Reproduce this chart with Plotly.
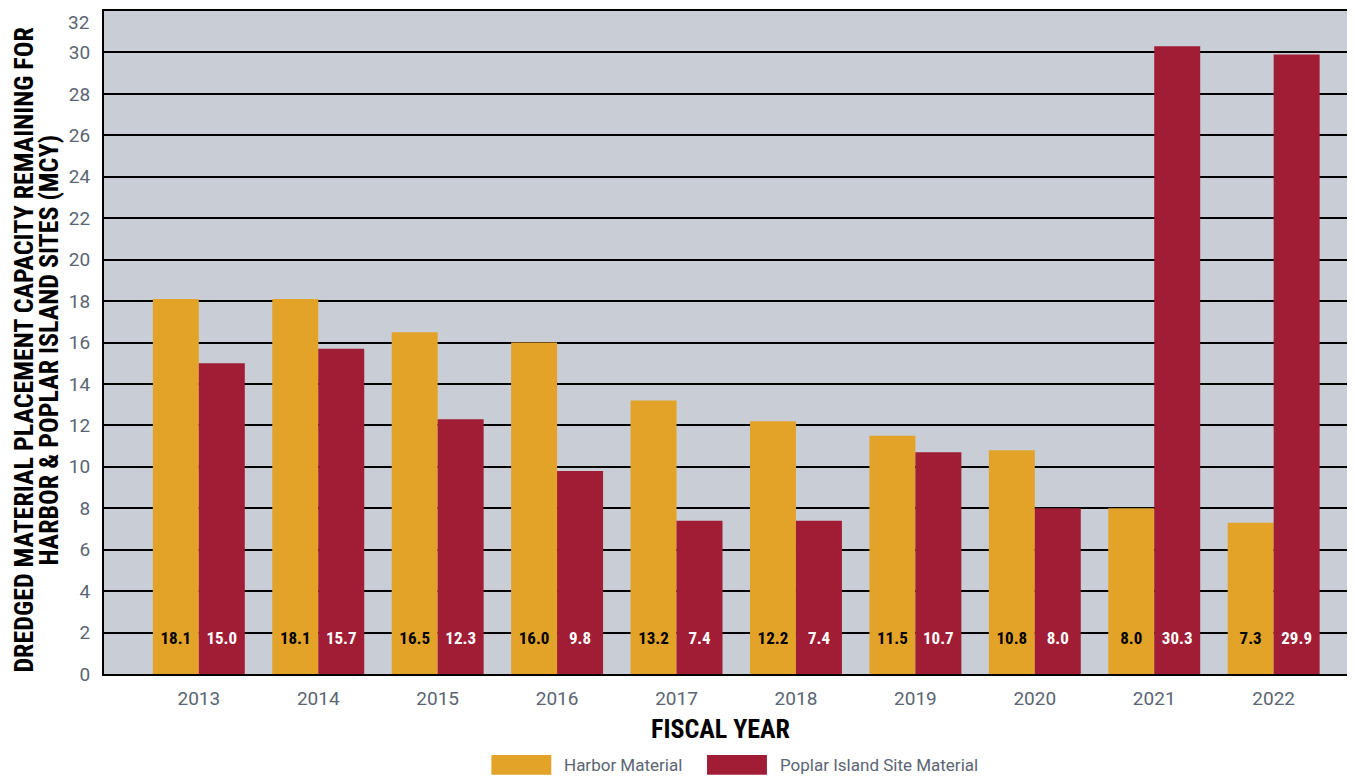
import plotly.graph_objects as go

years = ["2013", "2014", "2015", "2016", "2017", "2018", "2019", "2020", "2021", "2022"]
harbor = [18.1, 18.1, 16.5, 16.0, 13.2, 12.2, 11.5, 10.8, 8.0, 7.3]
poplar = [15.0, 15.7, 12.3, 9.8, 7.4, 7.4, 10.7, 8.0, 30.3, 29.9]
y_ticks = list(range(0, 31, 2))
y_top = 32

ORANGE = "#E3A329"
MAROON = "#A11C35"
BG = "#C9CED6"
TICK = "#5B6573"
COND = "Roboto Condensed, DejaVu Sans Condensed, Liberation Sans Narrow, Roboto"
FONT = "Roboto, Arial"
idx = list(range(len(years)))

# page body has an 8px margin; figure drawn at (8, 8)
W, H = 1347, 771
L, T, B, R = 96, 2, 105, 1
PW = W - L - R
PH = H - T - B

fig = go.Figure()
fig.add_trace(go.Bar(x=idx, y=harbor, name="Harbor Material", marker_color=ORANGE,
                     marker_line_width=0, showlegend=False))
fig.add_trace(go.Bar(x=idx, y=poplar, name="Poplar Island Site Material", marker_color=MAROON,
                     marker_line_width=0, showlegend=False))

off = 0.1925
fig.add_trace(go.Scatter(x=[i - off for i in idx], y=[1.65] * len(idx), mode="text",
                         text=[f"{v:.1f}" for v in harbor],
                         textfont=dict(family=COND, size=17, color="black", weight="bold"),
                         showlegend=False, hoverinfo="skip"))
fig.add_trace(go.Scatter(x=[i + off for i in idx], y=[1.65] * len(idx), mode="text",
                         text=[f"{v:.1f}" for v in poplar],
                         textfont=dict(family=COND, size=17, color="white", weight="bold"),
                         showlegend=False, hoverinfo="skip"))

fig.update_layout(
    width=W, height=H,
    margin=dict(l=L, r=R, t=T, b=B),
    paper_bgcolor="white", plot_bgcolor=BG,
    barmode="group", bargap=0.23, bargroupgap=0,
    font=dict(family=FONT, size=19, color=TICK),
    xaxis=dict(range=[-0.794, 9.656], tickvals=idx, ticktext=years, showgrid=False,
               showline=True, linecolor="black", linewidth=2, mirror=True,
               ticks="", tickfont=dict(size=19, color=TICK), ticklabelstandoff=6,
               zeroline=False),
    yaxis=dict(range=[0, y_top], tickvals=y_ticks, showgrid=True, gridcolor="black", gridwidth=2,
               showline=True, linecolor="black", linewidth=2, mirror=True,
               ticks="", tickfont=dict(size=19, color=TICK), ticklabelstandoff=8,
               zeroline=False),
)

def px_x(p):
    return (p - 8 - L) / PW

def px_y(p):
    return (H + 8 - B - p) / PH

# top tick label, drawn slightly below the top edge as in the original
fig.add_annotation(text=str(y_top), xref="paper", yref="y", x=0, y=y_top, xanchor="right",
                   yanchor="middle", xshift=-13, yshift=-11, showarrow=False,
                   font=dict(family=FONT, size=19, color=TICK))

# Axis titles (two separate lines for tight line spacing)
for line, cx in [("DREDGED MATERIAL PLACEMENT CAPACITY REMAINING FOR", 24),
                 ("HARBOR &amp; POPLAR ISLAND SITES (MCY)", 49)]:
    fig.add_annotation(text=line, xref="paper", yref="paper", x=px_x(cx), y=px_y(350),
                       textangle=-90, xanchor="center", yanchor="middle",
                       showarrow=False, align="center",
                       font=dict(family=COND, size=26, color="black", weight="bold"))
fig.add_annotation(text="FISCAL YEAR", xref="paper", yref="paper", x=px_x(721),
                   y=px_y(729), xanchor="center", yanchor="middle", showarrow=False,
                   font=dict(family=COND, size=26, color="black", weight="bold"))

# Custom legend
for (x0, x1, col, label, tx) in [(492, 552, ORANGE, "Harbor Material", 563),
                                 (708, 768, MAROON, "Poplar Island Site Material", 779)]:
    fig.add_shape(type="rect", xref="paper", yref="paper", x0=px_x(x0), x1=px_x(x1),
                  y0=px_y(775), y1=px_y(755), fillcolor=col, line_width=0)
    fig.add_annotation(text=label, xref="paper", yref="paper", x=px_x(tx), y=px_y(765),
                       xanchor="left", yanchor="middle", showarrow=False,
                       font=dict(family=FONT, size=17, color=TICK))

fig.write_html("out.html")
